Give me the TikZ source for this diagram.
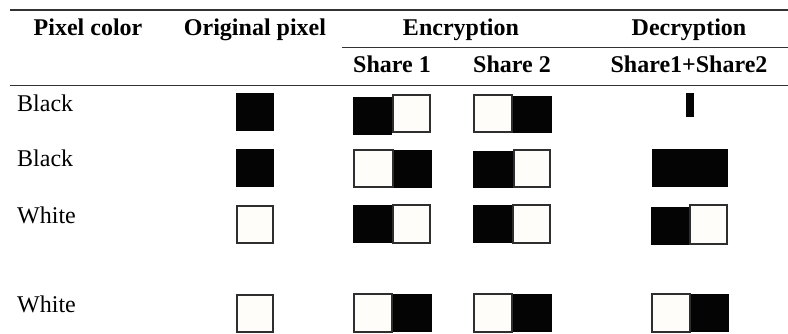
\documentclass[tikz,border=0pt]{standalone}
\usepackage{fontspec}
\setmainfont{Liberation Serif}
\definecolor{pixblack}{HTML}{040404}
\definecolor{pixwhite}{HTML}{FFFDFA}
\definecolor{pixedge}{HTML}{2E2E2E}
\definecolor{rulegray}{HTML}{333333}
\newcommand\blackcell[4]{\fill[blk] (#1,#2) rectangle (#3,#4);}
\newcommand\whitecell[4]{\draw[wht] ({#1+1.1},{#2+1.1}) rectangle ({#3-1.1},{#4-1.1});}
\begin{document}
\begin{tikzpicture}[x=1pt,y=-1pt,
  every node/.style={inner sep=0pt, font=\fontsize{24}{28}\selectfont},
  head/.style={anchor=base, font=\fontsize{24}{28}\selectfont\bfseries},
  rowlabel/.style={anchor=base west},
  blk/.style={fill=pixblack, draw=none},
  wht/.style={fill=pixwhite, draw=pixedge, line width=2.2pt},
  toprule/.style={draw=rulegray, line width=1.6pt},
  midrule/.style={draw=rulegray, line width=1pt}]
\useasboundingbox (0,0) rectangle (788,334);

% rules of the table
\draw[toprule] (10,10) -- (788,10);
\draw[midrule] (342,48) -- (788,48);
\draw[midrule] (10,86) -- (788,86);

% header rows
\node[head] (hcolor) at (88,36) {Pixel color};
\node[head] (horig) at (255,36) {Original pixel};
\node[head] (henc) at (461,36) {Encryption};
\node[head] (hdec) at (689,36) {Decryption};
\node[head] (hs1) at (392,73) {Share 1};
\node[head] (hs2) at (512,73) {Share 2};
\node[head] (hsum) at (689,73) {Share1+Share2};

% row labels
\node[rowlabel] (r1) at (17,112) {Black};
\node[rowlabel] (r2) at (17,167) {Black};
\node[rowlabel] (r3) at (17,223) {White};
\node[rowlabel] (r4) at (17,312) {White};

% row 1: black pixel
\blackcell{236}{93}{274}{131}
\blackcell{353}{97}{392}{135}
\whitecell{392}{94}{431}{133}
\blackcell{513}{96}{552}{133}
\whitecell{473}{94}{513}{133}
\blackcell{686}{93}{694}{117}

% row 2: black pixel
\blackcell{236}{149}{274}{187}
\blackcell{394}{150}{432}{188}
\whitecell{353}{149}{394}{188}
\blackcell{473}{151}{513}{188}
\whitecell{513}{149}{551}{188}
\blackcell{652}{149}{728}{187}

% row 3: white pixel
\whitecell{236}{205}{274}{244}
\blackcell{353}{205}{392}{243}
\whitecell{392}{204}{431}{244}
\blackcell{473}{205}{512}{243}
\whitecell{512}{204}{551}{244}
\blackcell{651}{207}{689}{245}
\whitecell{689}{204}{728}{245}

% row 4: white pixel
\whitecell{236}{294}{274}{333}
\blackcell{393}{294}{432}{332}
\whitecell{353}{293}{393}{333}
\blackcell{513}{294}{552}{332}
\whitecell{473}{293}{513}{333}
\blackcell{691}{294}{729}{332}
\whitecell{651}{293}{691}{333}
\end{tikzpicture}
\end{document}
